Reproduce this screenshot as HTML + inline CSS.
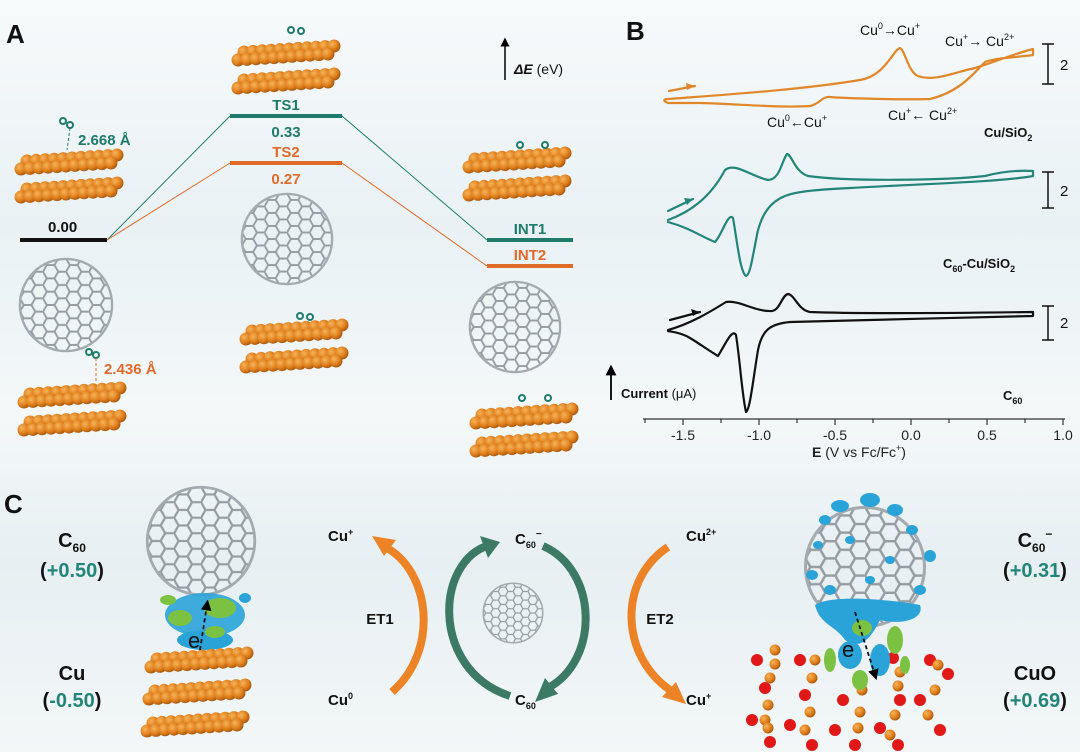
<!DOCTYPE html>
<html><head><meta charset="utf-8"><style>
html,body{margin:0;padding:0;}
body{width:1080px;height:752px;overflow:hidden;background:linear-gradient(#f7fafb 0%,#e9f1f4 30%,#f4f8f9 55%,#e7eff2 75%,#f3f7f8 100%);}
svg{display:block;font-family:"Liberation Sans",sans-serif;}
</style></head><body>
<svg width="1080" height="752" viewBox="0 0 1080 752">
<defs>
<radialGradient id="cug" cx="0.35" cy="0.35" r="0.7"><stop offset="0" stop-color="#f6b45a"/><stop offset="0.6" stop-color="#e07f1c"/><stop offset="1" stop-color="#a5560e"/></radialGradient>
<pattern id="hex" width="24" height="13.86" patternUnits="userSpaceOnUse">
<path d="M0,6.93 L4,0 L12,0 L16,6.93 L12,13.86 L4,13.86 Z M16,6.93 L24,6.93" fill="none" stroke="#959da2" stroke-width="2"/>
</pattern>
<symbol id="ful" viewBox="-50 -50 100 100" overflow="visible">
<circle r="48" fill="url(#hex)"/>
<circle r="48" fill="none" stroke="#a4abb0" stroke-width="2.5"/>
</symbol>
<g id="row">
<circle cx="6" cy="14" r="6.5" fill="url(#cug)"/><circle cx="15" cy="13.4" r="6.5" fill="url(#cug)"/><circle cx="24" cy="12.8" r="6.5" fill="url(#cug)"/><circle cx="33" cy="12.2" r="6.5" fill="url(#cug)"/><circle cx="42" cy="11.6" r="6.5" fill="url(#cug)"/><circle cx="51" cy="11" r="6.5" fill="url(#cug)"/><circle cx="60" cy="10.4" r="6.5" fill="url(#cug)"/><circle cx="69" cy="9.8" r="6.5" fill="url(#cug)"/><circle cx="78" cy="9.2" r="6.5" fill="url(#cug)"/><circle cx="87" cy="8.6" r="6.5" fill="url(#cug)"/><circle cx="96" cy="8" r="6.5" fill="url(#cug)"/>
</g>
<g id="layer">
<use href="#row" x="6" y="-5"/>
<use href="#row" x="0" y="3"/>
</g>
<g id="slab">
<use href="#layer"/>
<use href="#layer" y="28"/>
</g>
<marker id="ah" viewBox="0 0 10 10" refX="5" refY="5" markerWidth="6" markerHeight="6" orient="auto"><path d="M0,0 L10,5 L0,10 z" fill="#000"/></marker>
</defs>

<!-- ===== Panel A ===== -->
<text x="6" y="43" font-size="26" font-weight="bold" fill="#111">A</text>
<use href="#slab" x="15" y="152"/>
<circle cx="63" cy="121" r="3" fill="none" stroke="#1e7a6a" stroke-width="2"/>
<circle cx="70" cy="125" r="3" fill="none" stroke="#1e7a6a" stroke-width="2"/>
<line x1="70" y1="128" x2="67" y2="150" stroke="#1e7a6a" stroke-dasharray="3 2"/>
<text x="78" y="145" font-size="15" font-weight="bold" fill="#1e7a6a">2.668 Å</text>
<text x="48" y="232" font-size="15" font-weight="bold" fill="#111">0.00</text>
<rect x="20" y="238" width="87" height="4" fill="#111"/>
<use href="#ful" x="18" y="257" width="96" height="96"/>
<circle cx="89" cy="352" r="3" fill="none" stroke="#1e7a6a" stroke-width="2"/>
<circle cx="96" cy="355" r="3" fill="none" stroke="#1e7a6a" stroke-width="2"/>
<line x1="96" y1="358" x2="96" y2="382" stroke="#e06a2a" stroke-dasharray="3 2"/>
<text x="104" y="374" font-size="15" font-weight="bold" fill="#e06a2a">2.436 Å</text>
<use href="#slab" x="18" y="385"/>

<use href="#slab" x="232" y="43"/>
<circle cx="291" cy="30" r="3" fill="none" stroke="#1e7a6a" stroke-width="2"/>
<circle cx="301" cy="31" r="3" fill="none" stroke="#1e7a6a" stroke-width="2"/>
<line x1="107" y1="240" x2="230" y2="116" stroke="#1e7a6a" stroke-width="1"/>
<line x1="342" y1="116" x2="487" y2="240" stroke="#1e7a6a" stroke-width="1"/>
<line x1="107" y1="240" x2="230" y2="163" stroke="#e06a2a" stroke-width="1"/>
<line x1="342" y1="163" x2="487" y2="266" stroke="#e06a2a" stroke-width="1"/>
<text x="286" y="110" font-size="15" font-weight="bold" fill="#1e7a6a" text-anchor="middle">TS1</text>
<rect x="230" y="114" width="112" height="4" fill="#1e7a6a"/>
<text x="286" y="137" font-size="15" font-weight="bold" fill="#1e7a6a" text-anchor="middle">0.33</text>
<text x="286" y="157" font-size="15" font-weight="bold" fill="#e06a2a" text-anchor="middle">TS2</text>
<rect x="230" y="161" width="112" height="4" fill="#e06a2a"/>
<text x="286" y="184" font-size="15" font-weight="bold" fill="#e06a2a" text-anchor="middle">0.27</text>
<use href="#ful" x="240" y="192" width="94" height="94"/>
<circle cx="300" cy="316" r="3" fill="none" stroke="#1e7a6a" stroke-width="2"/>
<circle cx="310" cy="317" r="3" fill="none" stroke="#1e7a6a" stroke-width="2"/>
<use href="#slab" x="240" y="322"/>

<line x1="505" y1="80" x2="505" y2="42" stroke="#000" stroke-width="1.5" marker-end="url(#ah)"/>
<text x="514" y="74" font-size="14" fill="#111"><tspan font-weight="bold" font-style="italic">ΔE</tspan> (eV)</text>

<use href="#slab" x="463" y="150"/>
<circle cx="520" cy="145" r="3" fill="none" stroke="#1e7a6a" stroke-width="2"/>
<circle cx="545" cy="145" r="3" fill="none" stroke="#1e7a6a" stroke-width="2"/>
<text x="530" y="234" font-size="15" font-weight="bold" fill="#1e7a6a" text-anchor="middle">INT1</text>
<rect x="487" y="238" width="86" height="4" fill="#1e7a6a"/>
<text x="530" y="260" font-size="15" font-weight="bold" fill="#e06a2a" text-anchor="middle">INT2</text>
<rect x="487" y="264" width="86" height="4" fill="#e06a2a"/>
<use href="#ful" x="468" y="280" width="94" height="94"/>
<circle cx="522" cy="398" r="3" fill="none" stroke="#1e7a6a" stroke-width="2"/>
<circle cx="548" cy="398" r="3" fill="none" stroke="#1e7a6a" stroke-width="2"/>
<use href="#slab" x="470" y="406"/>

<!-- ===== Panel B ===== -->
<text x="626" y="40" font-size="26" font-weight="bold" fill="#111">B</text>
<g font-size="14" fill="#111">
<text x="860" y="35">Cu<tspan font-size="9" dy="-6">0</tspan><tspan dy="6">→Cu</tspan><tspan font-size="9" dy="-6">+</tspan></text>
<text x="945" y="46">Cu<tspan font-size="9" dy="-6">+</tspan><tspan dy="6">→ Cu</tspan><tspan font-size="9" dy="-6">2+</tspan></text>
<text x="767" y="127">Cu<tspan font-size="9" dy="-6">0</tspan><tspan dy="6">←Cu</tspan><tspan font-size="9" dy="-6">+</tspan></text>
<text x="888" y="120">Cu<tspan font-size="9" dy="-6">+</tspan><tspan dy="6">← Cu</tspan><tspan font-size="9" dy="-6">2+</tspan></text>
</g>
<text x="984" y="137" font-size="13" font-weight="bold" fill="#111">Cu/SiO<tspan font-size="9" dy="4">2</tspan></text>
<text x="943" y="268" font-size="13" font-weight="bold" fill="#111">C<tspan font-size="9" dy="4">60</tspan><tspan dy="-4">-Cu/SiO</tspan><tspan font-size="9" dy="4">2</tspan></text>
<text x="1003" y="400" font-size="13" font-weight="bold" fill="#111">C<tspan font-size="9" dy="4">60</tspan></text>

<g fill="none" stroke-linejoin="round" stroke-linecap="round" stroke-width="2.2">
<path stroke="#e0872a" d="M668,99 C720,95 800,90 860,80 C885,76 893,50 900,48 C905,50 908,72 918,76 C935,82 955,72 975,68 C995,62 1010,55 1033,49 L1033,55 C1010,58 995,58 985,62 C975,72 960,92 930,99 C900,100 840,98 830,97 C822,96 820,104 810,106 C780,108 740,104 700,103 L668,103 C663,101 663,99 668,99"/>
<path stroke="#e0872a" d="M669,91 L695,86"/>
<path stroke="#238577" d="M668,220 C690,212 710,198 725,170 C735,162 750,176 768,180 C780,180 782,160 787,154 C792,155 795,172 808,176 C850,182 950,180 985,176 C1000,172 1015,170 1033,171 L1033,176 C1000,182 920,184 850,188 C810,190 795,192 785,196 C770,202 760,215 756,240 C752,260 750,275 746,276 C740,272 737,240 733,218 C728,212 722,235 715,242 C700,236 690,228 668,222"/>
<path stroke="#238577" d="M668,211 L693,199"/>
<path stroke="#111" d="M668,330 C690,324 710,312 726,302 C740,300 755,312 772,311 C780,310 782,295 788,294 C795,295 798,310 810,312 C860,314 960,313 1033,312 L1033,316 C960,318 850,320 790,322 C770,324 762,330 758,350 C753,380 750,410 746,412 C742,395 740,360 736,335 C732,328 725,345 718,356 C708,350 700,344 690,338 C680,332 672,332 668,331"/>
<path stroke="#111" d="M670,320 L700,312"/>
</g>
<path d="M695,86 l-9,-3 l1,7 z" fill="#e0872a"/>
<path d="M693,199 l-9,-1 l3,7 z" fill="#238577"/>
<path d="M700,312 l-9,-3 l2,7 z" fill="#111"/>
<g stroke="#111" stroke-width="1.5" fill="none">
<path d="M1042,44 h12 M1048,44 v40 M1042,84 h12"/>
<path d="M1042,172 h12 M1048,172 v36 M1042,208 h12"/>
<path d="M1042,306 h12 M1048,306 v34 M1042,340 h12"/>
</g>
<g font-size="15" fill="#111"><text x="1060" y="70">2</text><text x="1060" y="196">2</text><text x="1060" y="328">2</text></g>
<line x1="611" y1="400" x2="611" y2="370" stroke="#000" stroke-width="1.8" marker-end="url(#ah)"/>
<text x="621" y="398" font-size="13" fill="#111"><tspan font-weight="bold">Current</tspan> (μA)</text>
<g stroke="#333" stroke-width="1.2">
<line x1="643" y1="419" x2="1065" y2="419"/>
<line x1="645" y1="419" x2="645" y2="423"/><line x1="683" y1="419" x2="683" y2="425"/><line x1="721" y1="419" x2="721" y2="423"/><line x1="759" y1="419" x2="759" y2="425"/><line x1="797" y1="419" x2="797" y2="423"/><line x1="835" y1="419" x2="835" y2="425"/><line x1="873" y1="419" x2="873" y2="423"/><line x1="911" y1="419" x2="911" y2="425"/><line x1="949" y1="419" x2="949" y2="423"/><line x1="987" y1="419" x2="987" y2="425"/><line x1="1025" y1="419" x2="1025" y2="423"/><line x1="1063" y1="419" x2="1063" y2="425"/>
</g>
<g font-size="14" fill="#222" text-anchor="middle">
<text x="683" y="440">-1.5</text><text x="759" y="440">-1.0</text><text x="835" y="440">-0.5</text><text x="911" y="440">0.0</text><text x="987" y="440">0.5</text><text x="1063" y="440">1.0</text>
<text x="859" y="457"><tspan font-weight="bold">E</tspan> (V vs Fc/Fc<tspan font-size="9" dy="-6">+</tspan><tspan dy="6">)</tspan></text>
</g>

<!-- ===== Panel C ===== -->
<text x="4" y="513" font-size="26" font-weight="bold" fill="#111">C</text>
<g font-size="20" font-weight="bold" fill="#111" text-anchor="middle">
<text x="72" y="547">C<tspan font-size="12" dy="5">60</tspan></text>
<text x="72" y="577">(<tspan fill="#238577">+0.50</tspan>)</text>
<text x="72" y="680">Cu</text>
<text x="72" y="707">(<tspan fill="#238577">-0.50</tspan>)</text>
<text x="1035" y="547">C<tspan font-size="12" dy="5">60</tspan><tspan font-size="12" dy="-14">−</tspan></text>
<text x="1035" y="577">(<tspan fill="#238577">+0.31</tspan>)</text>
<text x="1035" y="680">CuO</text>
<text x="1035" y="707">(<tspan fill="#238577">+0.69</tspan>)</text>
</g>

<!-- left structure -->
<use href="#ful" x="145" y="485" width="112" height="112"/>
<g>
<ellipse cx="205" cy="615" rx="40" ry="22" fill="#2aa3d8" opacity="0.9"/>
<ellipse cx="220" cy="608" rx="16" ry="10" fill="#7cc242"/>
<ellipse cx="180" cy="618" rx="12" ry="8" fill="#7cc242"/>
<ellipse cx="205" cy="640" rx="28" ry="10" fill="#2aa3d8"/>
<ellipse cx="215" cy="632" rx="10" ry="6" fill="#7cc242"/>
<ellipse cx="168" cy="600" rx="8" ry="5" fill="#7cc242"/>
<ellipse cx="245" cy="598" rx="6" ry="5" fill="#2aa3d8"/>
</g>
<use href="#layer" x="145" y="650"/>
<use href="#layer" x="143" y="682"/>
<use href="#layer" x="141" y="714"/>
<path d="M200,650 L207,605" stroke="#111" stroke-width="1.8" stroke-dasharray="4 3" marker-end="url(#ah)"/>
<text x="188" y="648" font-size="22" fill="#111">e</text>

<!-- ET1 arc -->
<path d="M392,692 C440,650 430,570 385,547" fill="none" stroke="#ec8427" stroke-width="8"/>
<path d="M372,536 L396,540 L384,556 Z" fill="#ec8427"/>
<text x="380" y="624" font-size="15" font-weight="bold" fill="#111" text-anchor="middle">ET1</text>
<g font-size="15" font-weight="bold" fill="#111">
<text x="328" y="541">Cu<tspan font-size="9" dy="-6">+</tspan></text>
<text x="328" y="705">Cu<tspan font-size="9" dy="-6">0</tspan></text>
<text x="686" y="541">Cu<tspan font-size="9" dy="-6">2+</tspan></text>
<text x="686" y="705">Cu<tspan font-size="9" dy="-6">+</tspan></text>
<text x="515" y="544">C<tspan font-size="9" dy="4">60</tspan><tspan font-size="10" dy="-11">−</tspan></text>
<text x="515" y="705">C<tspan font-size="9" dy="4">60</tspan></text>
</g>
<!-- green cycle -->
<path d="M510,696 C430,670 435,560 490,545" fill="none" stroke="#3c7a66" stroke-width="8"/>
<path d="M480,536 L500,542 L488,558 Z" fill="#3c7a66"/>
<path d="M543,546 C598,570 600,660 548,688" fill="none" stroke="#3c7a66" stroke-width="8"/>
<path d="M535,702 L545,678 L558,694 Z" fill="#3c7a66"/>
<use href="#ful" x="482" y="580" width="62" height="66"/>
<!-- ET2 arc -->
<path d="M668,547 C618,580 620,655 670,690" fill="none" stroke="#ec8427" stroke-width="8"/>
<path d="M686,704 L662,697 L676,682 Z" fill="#ec8427"/>
<text x="660" y="624" font-size="15" font-weight="bold" fill="#111" text-anchor="middle">ET2</text>

<!-- right structure -->
<g>
<g fill="#e01818">
<circle cx="757" cy="660" r="6"/><circle cx="765" cy="688" r="6"/><circle cx="752" cy="720" r="6"/><circle cx="770" cy="742" r="6"/>
<circle cx="800" cy="660" r="6"/><circle cx="805" cy="695" r="6"/><circle cx="790" cy="725" r="6"/><circle cx="812" cy="745" r="6"/>
<circle cx="843" cy="700" r="6"/><circle cx="835" cy="730" r="6"/><circle cx="855" cy="745" r="6"/>
<circle cx="893" cy="658" r="6"/><circle cx="900" cy="700" r="6"/><circle cx="880" cy="728" r="6"/><circle cx="898" cy="745" r="6"/>
<circle cx="930" cy="660" r="6"/><circle cx="948" cy="674" r="6"/><circle cx="920" cy="700" r="6"/><circle cx="940" cy="730" r="6"/>
</g>
<g fill="url(#cug)">
<circle cx="775" cy="650" r="5.5"/><circle cx="775" cy="664" r="5.5"/><circle cx="770" cy="678" r="5.5"/><circle cx="768" cy="705" r="5.5"/><circle cx="765" cy="720" r="5.5"/><circle cx="768" cy="728" r="5.5"/>
<circle cx="815" cy="660" r="5.5"/><circle cx="812" cy="678" r="5.5"/><circle cx="810" cy="712" r="5.5"/><circle cx="805" cy="730" r="5.5"/>
<circle cx="862" cy="690" r="5.5"/><circle cx="860" cy="712" r="5.5"/><circle cx="858" cy="728" r="5.5"/>
<circle cx="900" cy="672" r="5.5"/><circle cx="898" cy="686" r="5.5"/><circle cx="895" cy="715" r="5.5"/><circle cx="890" cy="735" r="5.5"/>
<circle cx="938" cy="665" r="5.5"/><circle cx="935" cy="690" r="5.5"/><circle cx="928" cy="715" r="5.5"/>
</g>
</g>
<use href="#ful" x="803" y="505" width="124" height="124"/>
<g fill="#2aa3d8">
<ellipse cx="840" cy="506" rx="9" ry="6"/><ellipse cx="870" cy="500" rx="10" ry="7"/><ellipse cx="895" cy="510" rx="8" ry="6"/><ellipse cx="825" cy="520" rx="6" ry="5"/><ellipse cx="912" cy="530" rx="6" ry="5"/><ellipse cx="818" cy="545" rx="5" ry="4"/><ellipse cx="930" cy="556" rx="6" ry="6"/><ellipse cx="812" cy="575" rx="6" ry="5"/><ellipse cx="850" cy="540" rx="5" ry="4"/><ellipse cx="890" cy="560" rx="5" ry="4"/><ellipse cx="830" cy="590" rx="6" ry="5"/><ellipse cx="920" cy="590" rx="6" ry="5"/><ellipse cx="870" cy="580" rx="5" ry="4"/><ellipse cx="900" cy="608" rx="8" ry="6"/>
<path d="M815,605 C830,595 880,598 920,605 C925,620 900,625 880,620 C870,640 860,650 845,640 C835,625 820,625 815,605 Z"/>
<ellipse cx="850" cy="655" rx="12" ry="14"/><ellipse cx="880" cy="660" rx="10" ry="16"/>
</g>
<g fill="#7cc242">
<ellipse cx="862" cy="628" rx="10" ry="8"/><ellipse cx="895" cy="640" rx="8" ry="14"/><ellipse cx="830" cy="660" rx="6" ry="12"/><ellipse cx="860" cy="680" rx="8" ry="10"/><ellipse cx="905" cy="665" rx="5" ry="9"/>
</g>
<path d="M855,612 L875,675" stroke="#111" stroke-width="1.8" stroke-dasharray="4 3" marker-end="url(#ah)"/>
<text x="842" y="657" font-size="22" fill="#111">e</text>
</svg>
</body></html>
